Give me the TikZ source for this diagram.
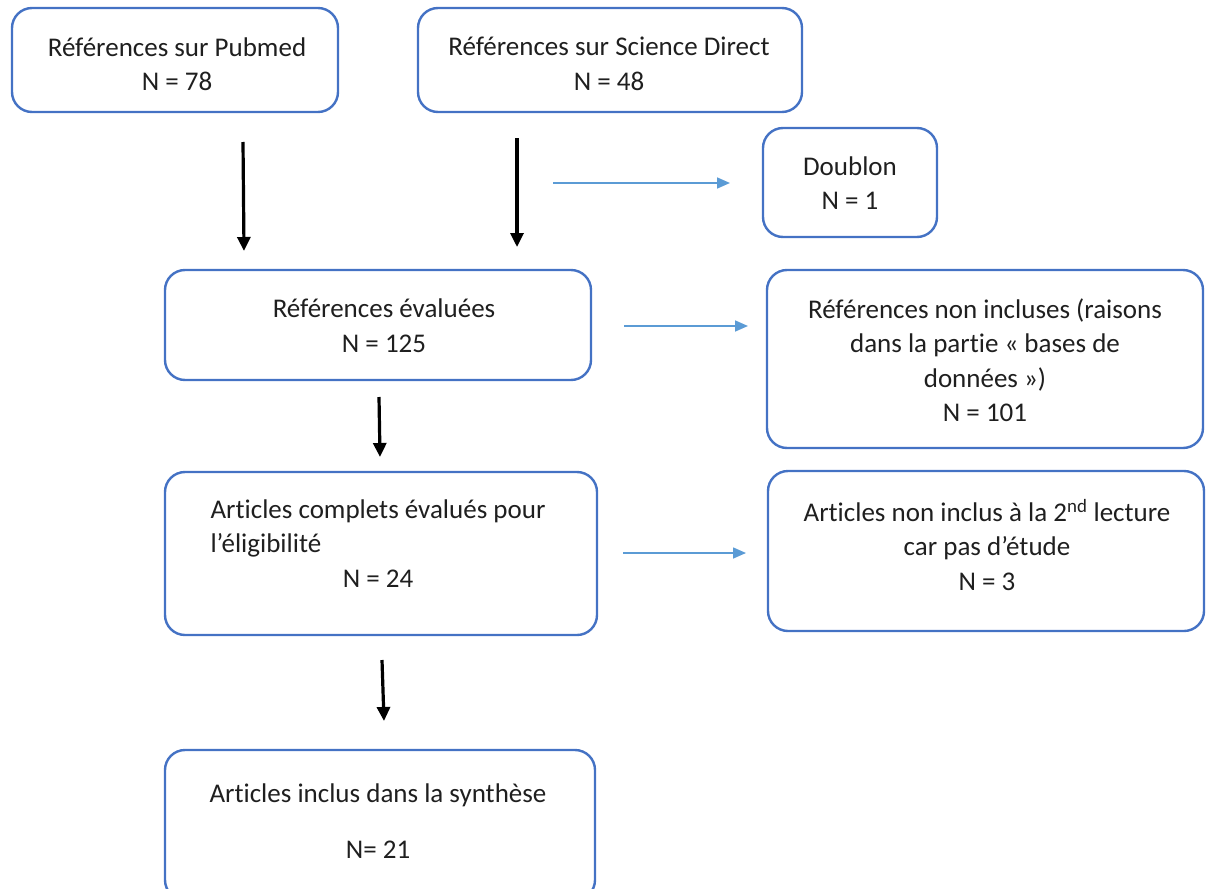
\documentclass[tikz,border=0pt]{standalone}
\usepackage{fontspec}
\usepackage{calc}
\setmainfont[Ligatures=NoCommon]{Carlito}
\usetikzlibrary{arrows.meta}
\definecolor{boxblue}{HTML}{4472C4}
\definecolor{arrblue}{HTML}{5B9BD5}
\begin{document}
\begin{tikzpicture}[x=1pt,y=-1pt,
  box/.style={draw=boxblue, line width=2.4pt, rounded corners=20pt, fill=none, inner sep=0pt},
  txt/.style={inner sep=0pt, align=center, font=\fontsize{27}{34.5}\selectfont, text=black!88},
  mainarrow/.style={line width=3.2pt, -{Triangle[length=14pt,width=13pt]}},
  sidearrow/.style={draw=arrblue, line width=1.6pt, -{Triangle[length=13pt,width=11pt]}}]
\useasboundingbox (0,0) rectangle (1206,888);
% boxes
\node[box, minimum width=326pt, minimum height=104pt] (pub) at (175,60) {};
\node[box, minimum width=384pt, minimum height=104pt] (sd) at (610,60) {};
\node[box, minimum width=174pt, minimum height=109pt] (dbl) at (850,182.5) {};
\node[box, minimum width=426pt, minimum height=110pt] (eval) at (378,325) {};
\node[box, minimum width=436pt, minimum height=178pt] (nonincl) at (985,359) {};
\node[box, minimum width=432pt, minimum height=163pt] (complets) at (381,553.5) {};
\node[box, minimum width=436pt, minimum height=160pt] (nonincl2) at (986,551) {};
\node[box, minimum width=430pt, minimum height=150pt] (inclus) at (380,825) {};
% texts
\node[txt] (pubt) at (177,64) {Références sur Pubmed\\N = 78};
\node[txt] (sdt) at (609,64) {Références sur Science Direct\\N = 48};
\node[txt] (dblt) at (850,183) {Doublon\\N = 1};
\node[txt] (evalt) at (384,325.5) {Références évaluées\\N = 125};
\node[txt] (noninclt) at (985,360) {Références non incluses (raisons\\dans la partie « bases de\\données »)\\N = 101};
\node[txt] (complett) at (378,543.5) {Articles complets évalués pour\\\makebox[\widthof{Articles complets évalués pour}][l]{l’éligibilité}\\N = 24};
\node[txt] (nonincl2t) at (987,545) {Articles non inclus à la 2\textsuperscript{nd} lecture\\car pas d’étude\\N = 3};
\node[txt] (inclust) at (378,821) {Articles inclus dans la synthèse\\[21pt]N= 21};
% arrow end points
\coordinate (a1s) at (243,142); \coordinate (a1e) at (244,251);
\coordinate (a2s) at (517,138); \coordinate (a2e) at (517,247);
\coordinate (a3s) at (379,397); \coordinate (a3e) at (380,457);
\coordinate (a4s) at (382,660); \coordinate (a4e) at (384,721);
\coordinate (b1s) at (553,183); \coordinate (b1e) at (730,183);
\coordinate (b2s) at (624,326); \coordinate (b2e) at (748,326);
\coordinate (b3s) at (623,553); \coordinate (b3e) at (746,553);
\draw[mainarrow] (a1s) -- (a1e);
\draw[mainarrow] (a2s) -- (a2e);
\draw[mainarrow] (a3s) -- (a3e);
\draw[mainarrow] (a4s) -- (a4e);
\draw[sidearrow] (b1s) -- (b1e);
\draw[sidearrow] (b2s) -- (b2e);
\draw[sidearrow] (b3s) -- (b3e);
\end{tikzpicture}
\end{document}
